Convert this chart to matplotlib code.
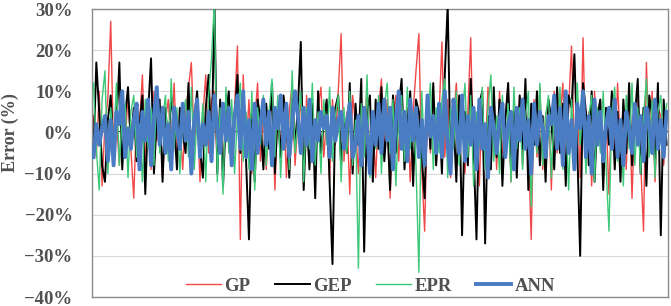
import matplotlib.pyplot as plt
from matplotlib.ticker import PercentFormatter

# error values in percent, one per sample
gp = [4, -6, 10, -13, 2, 8, 27, -5, 3, -8, 6, -3, 9, -4, -16, 5, 2, 14, -7, 4,
      -9, 10, -2, 6, -11, 3, 8, -4, 12, -6, 2, -9, 5, 11, 17, -3, 6, -12, 4, 14,
      -5, 8, 10, -8, 5, -12, 9, 2, -7, 6, 21, -26, 14, -4, 8, -10, 3, 12, -7, 5,
      -9, 4, 10, -14, 6, -3, 8, -11, 5, 12, -8, 3, 7, -13, 9, -5, 2, -9, 6, 11,
      -6, 4, -12, 8, -3, 10, 24, -7, 5, -15, 9, 2, -10, 7, -4, 12, -8, 3, -11, 6,
      13, -5, 8, -16, 4, 9, -7, 11, -3, 6, -12, 5, 15, 24, -9, -24, 7, -5, 10, -8,
      4, 22, -6, 8, -11, 3, 12, -4, 7, -10, 5, 23, -8, 4, -13, 9, -6, 11, -3, 7,
      -9, 10, -5, 3, 12, -12, 6, -4, 9, -8, 5, -3, -26, 8, -6, 11, -9, 4, 7, -14,
      10, -5, 3, 12, -8, 6, 21, -4, 9, -11, 23, -7, 5, -13, 10, -3, 8, -10, 4, -15,
      9, -6, 12, -4, 7, -9, 11, -16, 5, 8, -7, -24, 17, -5, 10, -12, 6, 4, -8, 3]

gep = [-6, 17, 5, -8, -12, 3, 9, -5, 2, 17, -9, 4, 11, -3, 6, -7, 2, 9, -15, 5,
       18, -10, 3, 8, -12, 6, -4, 9, 2, -9, 6, 0, -5, 12, -7, 3, 10, -4, -11, 6,
       14, -6, 32, -10, 8, -13, 4, 10, -8, 3, 14, -5, 9, -7, -26, 5, -12, 8, 3, -9,
       7, -4, 12, -10, 5, -6, 9, 2, -11, 8, -3, 6, 22, -14, 4, -9, 7, -16, 10, -5,
       3, 8, -12, -32, 6, 9, -8, 4, -5, 12, -10, 7, -3, 13, -29, 5, 9, -12, 8, -4,
       11, -7, 3, -14, 9, -5, 6, 13, -9, 2, 10, -13, 8, 5, -6, -16, 9, -4, 12, -8,
       6, -10, 14, 31, -7, 4, -12, 9, -25, 5, -8, 13, -4, -26, 7, 10, -27, 4, -9, 11,
       -6, 8, -13, 3, 12, -9, 5, -11, 9, -4, 13, -14, 7, -3, 10, -8, 4, -12, 8, 3,
       -9, 11, -5, 7, -13, 9, 6, 19, -4, -30, 12, 5, -8, 10, -12, 4, 8, -14, 6, -3,
       10, -9, 5, -12, 8, -5, 12, -8, 4, 13, -10, 6, -13, 9, 4, -7, 12, -25, 8, -3]

epr = [12, -4, -14, 8, 15, -10, 6, -3, 12, -8, 4, 7, -11, 5, 9, -6, 2, -12, 8, -4,
       6, -8, 11, -5, 3, 9, -7, 13, -4, 6, -10, 3, 8, -6, 11, -9, 4, -3, 7, -12,
       9, 18, 32, -12, 6, -15, 11, -5, 8, -10, 4, 12, -7, 5, -9, 10, -14, 6, -3, 9,
       -8, 5, 13, -6, 9, -11, 4, 7, -9, 15, -5, 3, 10, -12, 6, -4, 12, -8, 5, -10,
       8, -3, 11, -7, 4, 9, -12, 6, -5, 10, -8, 3, -33, 7, -6, 14, -11, 5, -4, 9,
       -10, 6, 12, -5, 8, -13, 4, 9, -7, 11, -4, 5, -8, -34, 10, -6, 3, 12, -9, 6,
       -5, 8, 13, -11, 6, -4, 10, -8, 3, 12, -6, 9, -13, 5, -3, 11, -9, 6, 14, -7,
       4, -10, 9, -5, 7, -12, 11, -4, 6, -9, 3, 10, -18, 7, -5, 12, -8, 4, 9, -11,
       6, -4, 11, -9, 5, -14, 8, -6, 12, -3, 7, -10, 4, 9, -12, 6, -5, 10, -8, -24,
       5, 11, -7, 3, -13, 9, -4, 12, -8, 6, -10, 4, 13, -6, 8, -11, 5, 9, -4, 7]

ann = [-6, 2, -3, 1, 4, -7, 3, -8, 5, 2, 10, -6, 1, -4, 3, 7, -9, 5, -2, 8,
       -8, 4, 11, -3, 6, -5, 2, -9, 6, 1, -4, 7, -2, 5, -10, 3, 8, -6, 2, -3,
       5, -7, 9, 1, -5, 7, -2, 6, -8, 4, 9, -4, 10, -6, 3, -9, 7, -5, 2, 8,
       -3, 5, -8, 6, 1, 9, -4, 7, -6, 2, 10, 4, -5, 6, -3, 8, -7, 3, -2, 5,
       1, 4, -6, 6, -2, 3, 5, -4, 2, 7, -6, -3, 4, -8, 6, 1, -10, 5, -3, 7,
       -5, 8, -2, 6, -9, 3, 10, -4, 5, -7, 8, -2, 6, -6, 3, -8, 9, -1, 4, -5,
       7, -6, 10, -3, -10, 8, 2, -5, 9, -7, 4, -3, 6, -9, 8, -4, 2, -11, 6, 1,
       -5, 3, 7, -6, 2, 5, -9, 6, -2, 8, -4, 3, -10, 7, -3, 5, 1, -6, 4, 2,
       9, -4, 6, -8, 10, -5, 3, -9, 7, 1, 10, -6, 4, -10, 8, -3, 5, -7, 2, 6,
       -4, 8, -6, 3, -8, 5, 1, -5, 7, -3, 4, -7, 6, 2, -5, 8, -4, 3, -6, 5]

x = list(range(len(gp)))
txt = "#505050"
serif = ["Liberation Serif", "DejaVu Serif"]

fig = plt.figure(figsize=(6.71, 3.06), dpi=100)
ax = fig.add_axes([92 / 671, 9 / 306, 576 / 671, 288 / 306])

ax.axhline(0, color="black", lw=1.2, zorder=1)
ax.plot(x, gp, color="#f04848", lw=1.0, label="GP", zorder=2)
ax.plot(x, gep, color="black", lw=1.4, label="GEP", zorder=3)
ax.plot(x, epr, color="#3cc878", lw=1.0, label="EPR", zorder=4)
ax.plot(x, ann, color="#4a7cc4", lw=2.8, label="ANN", zorder=5)

ax.set_ylim(-40, 30)
ax.set_xlim(-0.5, len(x) - 0.5)
ax.set_yticks(range(-40, 31, 10))
ax.yaxis.set_major_formatter(PercentFormatter(decimals=0))
ax.set_xticks([])
ax.grid(axis="y", color="#d9d9d9", lw=0.8, zorder=0)
ax.tick_params(axis="y", length=0, pad=14, labelcolor=txt)
for lab in ax.get_yticklabels():
    lab.set_family(serif)
    lab.set_fontweight("bold")
    lab.set_fontsize(13.5)
for s in ax.spines.values():
    s.set_color("#8c8c8c")
    s.set_linewidth(1.0)

fig.text(10 / 671, 1 - 133 / 306, "Error (%)", rotation=90, ha="center",
         va="center", family=serif, fontweight="bold", fontsize=13, color=txt)

leg = ax.legend(loc="lower center", bbox_to_anchor=(0.484, -0.05), ncol=4,
                frameon=False, handlelength=1.85, handletextpad=0.2,
                columnspacing=1.3,
                prop={"family": serif, "weight": "bold", "size": 13.5})
for t in leg.get_texts():
    t.set_color(txt)

fig.savefig("out.png", dpi=100)
